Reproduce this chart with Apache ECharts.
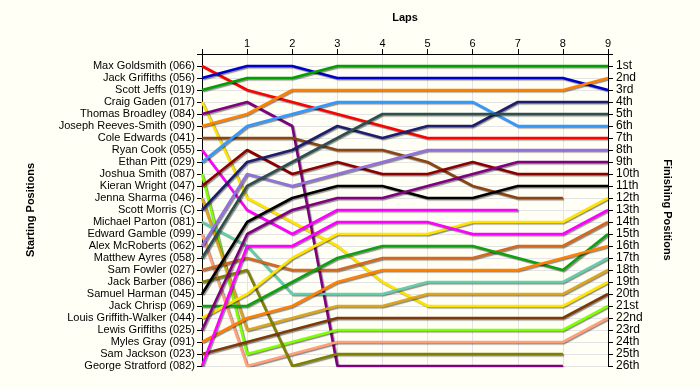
<!DOCTYPE html>
<html>
<head>
<meta charset="utf-8">
<script src="https://cdn.jsdelivr.net/npm/echarts@6/dist/echarts.min.js"></script>
<style>
  html, body { margin: 0; padding: 0; background: #FFFFF6; }
  #chart { width: 700px; height: 390px; }
</style>
</head>
<body>
<div id="chart"></div>
<script>
// Starting order (grid position 1..26)
const drivers = [
  'Max Goldsmith (066)', 'Jack Griffiths (056)', 'Scott Jeffs (019)', 'Craig Gaden (017)',
  'Thomas Broadley (084)', 'Joseph Reeves-Smith (090)', 'Cole Edwards (041)', 'Ryan Cook (055)',
  'Ethan Pitt (029)', 'Joshua Smith (087)', 'Kieran Wright (047)', 'Jenna Sharma (046)',
  'Scott Morris (C)', 'Michael Parton (081)', 'Edward Gamble (099)', 'Alex McRoberts (062)',
  'Matthew Ayres (058)', 'Sam Fowler (027)', 'Jack Barber (086)', 'Samuel Harman (045)',
  'Jack Chrisp (069)', 'Louis Griffith-Walker (044)', 'Lewis Griffiths (025)', 'Myles Gray (091)',
  'Sam Jackson (023)', 'George Stratford (082)'
];
const finishLabels = ['1st','2nd','3rd','4th','5th','6th','7th','8th','9th','10th','11th','12th','13th',
  '14th','15th','16th','17th','18th','19th','20th','21st','22nd','23rd','24th','25th','26th'];
const laps = [0, 1, 2, 3, 4, 5, 6, 7, 8, 9];

// Position at each lap (lap 0 = start); shorter arrays = retired
const maxGoldsmith      = [1, 3, 4, 5, 6, 7, 7, 7, 7, 7];
const jackGriffiths     = [2, 1, 1, 2, 2, 2, 2, 2, 2, 3];
const scottJeffs        = [3, 2, 2, 1, 1, 1, 1, 1, 1, 1];
const craigGaden        = [4, 12, 14, 16, 19, 21, 21, 21, 21, 19];
const thomasBroadley    = [5, 4, 6, 26, 26, 26, 26, 26, 26];
const josephReevesSmith = [6, 5, 3, 3, 3, 3, 3, 3, 3, 2];
const coleEdwards       = [7, 7, 7, 8, 8, 9, 11, 12, 12];
const ryanCook          = [8, 13, 15, 13, 13, 13, 13, 13];
const ethanPitt         = [9, 6, 5, 4, 4, 4, 4, 6, 6, 6];
const joshuaSmith       = [10, 25, 24, 23, 23, 23, 23, 23, 23, 21];
const kieranWright      = [11, 8, 10, 9, 10, 10, 9, 10, 10, 10];
const jennaSharma       = [12, 23, 22, 21, 21, 20, 20, 20, 20, 18];
const scottMorris       = [13, 9, 8, 6, 7, 6, 6, 4, 4, 4];
const michaelParton     = [14, 16, 20, 20, 20, 19, 19, 19, 19, 17];
const edwardGamble      = [15, 26, 25, 24, 24, 24, 24, 24, 24, 22];
const alexMcRoberts     = [16, 10, 11, 10, 9, 8, 8, 8, 8, 8];
const matthewAyres      = [17, 11, 9, 7, 5, 5, 5, 5, 5, 5];
const samFowler         = [18, 17, 18, 18, 17, 17, 17, 16, 16, 14];
const jackBarber        = [19, 18, 26, 25, 25, 25, 25, 25, 25];
const samuelHarman      = [20, 14, 12, 11, 11, 12, 12, 11, 11, 11];
const jackChrisp        = [21, 21, 19, 17, 16, 16, 16, 17, 18, 15];
const louisGriffithWalker = [22, 20, 17, 15, 15, 15, 14, 14, 14, 12];
const lewisGriffiths    = [23, 15, 13, 12, 12, 11, 10, 9, 9, 9];
const mylesGray         = [24, 22, 21, 19, 18, 18, 18, 18, 17, 16];
const samJackson        = [25, 24, 23, 22, 22, 22, 22, 22, 22, 20];
const georgeStratford   = [26, 16, 16, 14, 14, 14, 15, 15, 15, 13];

const positions = [maxGoldsmith, jackGriffiths, scottJeffs, craigGaden, thomasBroadley,
  josephReevesSmith, coleEdwards, ryanCook, ethanPitt, joshuaSmith, kieranWright, jennaSharma,
  scottMorris, michaelParton, edwardGamble, alexMcRoberts, matthewAyres, samFowler, jackBarber,
  samuelHarman, jackChrisp, louisGriffithWalker, lewisGriffiths, mylesGray, samJackson, georgeStratford];

const colors = ['#FF0000', '#0000CC', '#00A000', '#FFE400', '#800080', '#FF8000', '#8B4513', '#FF00FF',
  '#3399FF', '#7FFF00', '#8B0000', '#DAA520', '#1E1E6E', '#66CDAA', '#FFA07A', '#9370DB',
  '#2F4F4F', '#D2691E', '#808000', '#000000', '#11A011', '#FFE400', '#800080', '#FF7F00',
  '#7B3A0A', '#FF00FF'];

const FONT = 'Liberation Sans, Arial, sans-serif';

const series = positions.map((arr, i) => ({
  type: 'line',
  name: drivers[i],
  data: arr.map((p, lap) => [laps[lap], p]),
  showSymbol: false,
  symbol: 'none',
  silent: true,
  animation: false,
  lineStyle: {
    color: colors[i], width: 2.6,
    shadowColor: 'rgba(0,0,0,0.45)', shadowBlur: 1, shadowOffsetX: 1.2, shadowOffsetY: 1.2
  },
  z: 2
}));

const chart = echarts.init(document.getElementById('chart'), null, { renderer: 'canvas' });
chart.setOption({
  backgroundColor: '#FFFFF6',
  animation: false,
  grid: { left: 202, right: 92, top: 54, bottom: 24 },
  xAxis: {
    type: 'value', position: 'top', min: 0, max: 9, interval: 1,
    name: 'Laps', nameLocation: 'middle', nameGap: 31,
    nameTextStyle: { fontFamily: FONT, fontWeight: 'bold', fontSize: 11, color: '#000' },
    axisLine: { show: true, lineStyle: { color: '#000', width: 1 } },
    axisTick: { show: true, length: 5, lineStyle: { color: '#000' } },
    axisLabel: { fontFamily: FONT, fontSize: 11, color: '#000', margin: 5,
      formatter: v => v === 0 ? '' : String(v) },
    splitLine: { show: true, lineStyle: { color: '#E4E4E4', width: 1 } }
  },
  yAxis: [{
    type: 'value', inverse: true, min: 0, max: 26, interval: 1, position: 'left',
    name: 'Starting Positions', nameLocation: 'middle', nameGap: 166, nameRotate: 90,
    nameTextStyle: { fontFamily: FONT, fontWeight: 'bold', fontSize: 11, color: '#000' },
    axisLine: { show: true, lineStyle: { color: '#000', width: 1 } },
    axisTick: { show: true, length: 5, lineStyle: { color: '#000' } },
    axisLabel: { fontFamily: FONT, fontSize: 11, color: '#000', margin: 7,
      formatter: v => (v >= 1 && v <= drivers.length) ? drivers[v - 1] : '' },
    splitLine: { show: true, lineStyle: { color: '#E4E4E4', width: 1 } }
  }, {
    type: 'value', inverse: true, min: 0, max: 26, interval: 1, position: 'right',
    name: 'Finishing Positions', nameLocation: 'middle', nameGap: 54, nameRotate: -90,
    nameTextStyle: { fontFamily: FONT, fontWeight: 'bold', fontSize: 11, color: '#000' },
    axisLine: { show: true, lineStyle: { color: '#000', width: 1 } },
    axisTick: { show: true, length: 5, lineStyle: { color: '#000' } },
    axisLabel: { fontFamily: FONT, fontSize: 12, color: '#000', margin: 8,
      formatter: v => (v >= 1 && v <= finishLabels.length) ? finishLabels[v - 1] : '' },
    splitLine: { show: false }
  }],
  series: series
});
</script>
</body>
</html>
